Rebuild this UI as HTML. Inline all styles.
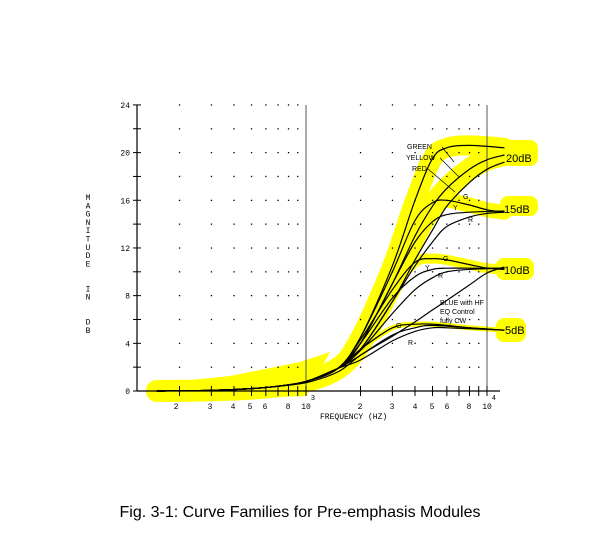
<!DOCTYPE html>
<html><head><meta charset="utf-8"><style>
body{margin:0;background:#fff;width:600px;height:541px;overflow:hidden}
svg{position:absolute;left:0;top:0}
.t{font-family:"Liberation Mono",monospace;font-size:8px;fill:#000}
.c{font-family:"Liberation Sans",sans-serif;font-size:16px;fill:#000}
.s{font-family:"Liberation Sans",sans-serif;font-size:7px;fill:#000}
.l{font-family:"Liberation Sans",sans-serif;font-size:11px;fill:#000}
</style></head><body>
<svg id="g" width="600" height="541" viewBox="0 0 600 541"></svg>
<script>
var svg=document.getElementById('g'),h='';
function X(f){return 125+181*Math.log10(f/100);}
function Y(d){return 391-d*11.92;}
var low=[[150,0],[300,0.05],[500,0.2],[700,0.4],[1000,0.8],[1500,1.9]];
var data=[
[[2000,4.5],[3000,10.5],[4000,16],[5000,19.5],[6000,20.4],[8000,20.6],[12500,20.4]],
[[2000,4],[3000,9],[4000,13],[5000,15.5],[6000,17],[8000,18.6],[10000,19.4],[12500,19.8]],
[[2000,3.5],[3000,7.5],[4000,11],[5000,13.5],[6000,15.5],[8000,17.5],[10000,18.6],[12500,19.2]],
[[2000,4.5],[3000,10],[4000,14.3],[5000,15.8],[6000,16],[8000,15.6],[10000,15.2],[12500,15.0]],
[[2000,4],[3000,9],[4000,12.5],[5000,14.2],[6000,14.8],[8000,15],[12500,15.1]],
[[2000,3.5],[3000,7.5],[4000,10.5],[5000,12.5],[6000,13.8],[8000,14.6],[10000,14.9],[12500,15]],
[[2000,4.3],[3000,8.5],[4000,10.8],[5000,11.1],[6000,11],[8000,10.6],[10000,10.3],[12500,10.2]],
[[2000,4],[3000,7.8],[4000,9.6],[5000,10.2],[6000,10.3],[8000,10.3],[12500,10.3]],
[[2000,3.4],[3000,6.5],[4000,8.5],[5000,9.5],[6000,10],[8000,10.2],[12500,10.3]],
[[2000,3.5],[3000,5.3],[4000,5.6],[5000,5.6],[6000,5.5],[8000,5.3],[12500,5.1]],
[[2000,3],[3000,4.7],[4000,5.3],[5000,5.5],[8000,5.3],[12500,5.1]],
[[2000,2.6],[3000,4.2],[4000,5],[5000,5.3],[6000,5.3],[12500,5.1]]
];
var curves=data.map(function(d){return low.concat(d);});
curves.push([[150,0],[300,0.05],[500,0.2],[700,0.4],[1000,0.7],[1500,1.6],[2000,3],[3000,4.6],[4000,5.8],[5000,6.8],[6000,7.6],[8000,8.9],[10000,9.9],[12500,10.4]]);
function path(pts){var P=pts.map(function(p){return [X(p[0]),Y(p[1])];});var s='M'+P[0][0].toFixed(1)+','+P[0][1].toFixed(1);
for(var i=0;i<P.length-1;i++){var p0=P[i>0?i-1:i],p1=P[i],p2=P[i+1],p3=P[i+2<P.length?i+2:i+1];
var c1=[p1[0]+(p2[0]-p0[0])/6,p1[1]+(p2[1]-p0[1])/6],c2=[p2[0]-(p3[0]-p1[0])/6,p2[1]-(p3[1]-p1[1])/6];
s+='C'+c1[0].toFixed(1)+','+c1[1].toFixed(1)+' '+c2[0].toFixed(1)+','+c2[1].toFixed(1)+' '+p2[0].toFixed(1)+','+p2[1].toFixed(1);}return s;}
// yellow highlights
h+='<path d="M162,393 L162,383 L230,376 L300,362 L330,352 L306,396 L250,398 Z" fill="#ff0"/>';
[[0,20],[3,15],[6,10],[9,5],[1,22]].forEach(function(a){h+='<path d="'+path(curves[a[0]])+'" stroke="#ff0" stroke-width="'+a[1]+'" fill="none" stroke-linecap="round" stroke-linejoin="round"/>';});
h+='<rect x="500" y="140" width="38" height="26" rx="8" fill="#ff0"/><rect x="500" y="196" width="38" height="20" rx="8" fill="#ff0"/><rect x="496" y="258" width="38" height="22" rx="8" fill="#ff0"/><rect x="496" y="318" width="30" height="24" rx="8" fill="#ff0"/>';
// grid dots
for(var d=2;d<=24;d+=2){for(var dec=100;dec<=1000;dec*=10){for(var k=2;k<=9;k++){var f=dec*k;h+='<rect x="'+(X(f)-0.6).toFixed(1)+'" y="'+(Y(d)-0.6).toFixed(1)+'" width="1.3" height="1.3" fill="#000"/>';}}}
// axes
h+='<line x1="137" y1="105" x2="137" y2="391" stroke="#000" stroke-width="1.2"/>';
h+='<line x1="137" y1="391" x2="500" y2="391" stroke="#000" stroke-width="1.2"/>';
h+='<line x1="306" y1="105" x2="306" y2="391" stroke="#555" stroke-width="1"/><line x1="487" y1="105" x2="487" y2="391" stroke="#555" stroke-width="1"/>';
for(var d=0;d<=24;d+=2){h+='<line x1="133" y1="'+Y(d)+'" x2="141" y2="'+Y(d)+'" stroke="#000"/>';if(d%4==0)h+='<text class="t" x="130" y="'+(Y(d)+3)+'" text-anchor="end">'+d+'</text>';}
for(var dec=100;dec<=1000;dec*=10){for(var k=2;k<=10;k++){var f=dec*k;var x=X(f);h+='<line x1="'+x+'" y1="386" x2="'+x+'" y2="396" stroke="#000"/>';}}
[[176,'2'],[210,'3'],[233,'4'],[250,'5'],[265,'6'],[288,'8'],[306,'10'],[360,'2'],[392,'3'],[415,'4'],[432,'5'],[447,'6'],[469,'8'],[487,'10']].forEach(function(a){h+='<text class="t" x="'+a[0]+'" y="409" text-anchor="middle">'+a[1]+'</text>';});
h+='<text class="s" x="311" y="400" font-size="5">3</text><text class="s" x="492" y="400" font-size="5">4</text>';
h+='<text class="t" x="320" y="419">FREQUENCY (HZ)</text>';
var lab='MAGNITUDE  IN  DB';for(var i=0;i<lab.length;i++)h+='<text class="t" x="88" y="'+(200+i*8.3)+'" text-anchor="middle">'+lab[i]+'</text>';
// curves
curves.forEach(function(c){h+='<path d="'+path(c)+'" stroke="#000" stroke-width="1.2" fill="none"/>';});
// labels
h+='<text class="s" x="407" y="149">GREEN</text><text class="s" x="406" y="160">YELLOW</text><text class="s" x="412" y="171">RED</text>';
h+='<path d="M442,147 L454,162 M440,158 L458,176 M428,169 L455,192" stroke="#000" stroke-width="0.7" fill="none"/>';
h+='<text class="l" x="506" y="162">20dB</text><text class="l" x="504" y="213">15dB</text><text class="l" x="504" y="274">10dB</text><text class="l" x="505" y="334">5dB</text>';
[[463,199,'G'],[453,210,'Y'],[468,222,'R'],[443,261,'G'],[425,270,'Y'],[438,278,'R'],[396,328,'G'],[408,345,'R']].forEach(function(a){h+='<text class="s" x="'+a[0]+'" y="'+a[1]+'">'+a[2]+'</text>';});
h+='<text class="s" x="440" y="305">BLUE with HF</text><text class="s" x="440" y="314">EQ Control</text><text class="s" x="440" y="323">fully CW</text>';
h+='<text class="c" x="300" y="517" text-anchor="middle">Fig. 3-1: Curve Families for Pre-emphasis Modules</text>';
svg.innerHTML=h;
</script>
</body></html>
